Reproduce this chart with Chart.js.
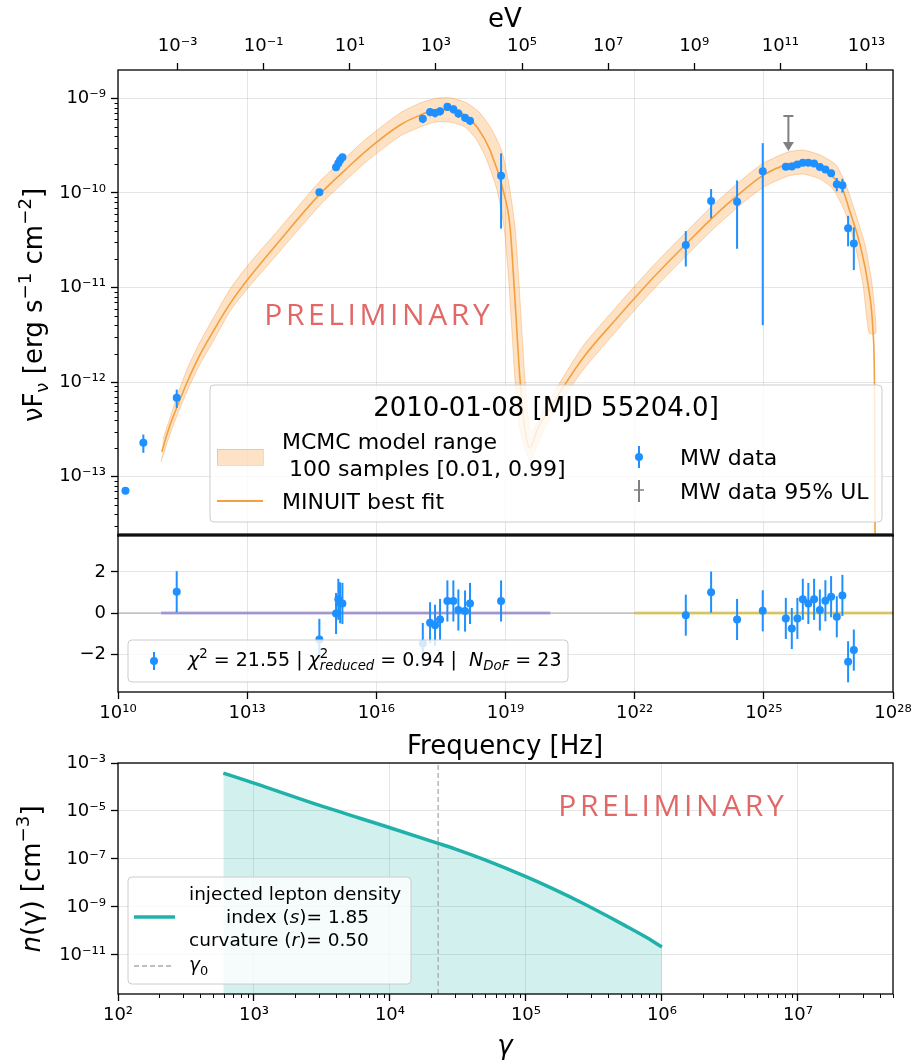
<!DOCTYPE html>
<html>
<head>
<meta charset="utf-8">
<script src="https://cdn.jsdelivr.net/npm/chart.js@4.4.1/dist/chart.umd.min.js"></script>
<style>
  body { margin: 0; background: #fff; }
  #wrap { position: relative; width: 913px; height: 1060px; }
  #wrap canvas { position: absolute; left: 0; top: 0; }
</style>
</head>
<body>
<div id="wrap">
  <canvas id="sed" width="913" height="1060"></canvas>
  <canvas id="res" width="913" height="1060"></canvas>
  <canvas id="ned" width="913" height="1060"></canvas>
</div>
<script>
// ---- MW data points: frequency [Hz], nuFnu [erg s-1 cm-2], 1-sigma error ----
const dataNu = [1.49e10, 3.88e10, 2.31e11,
  4.75e14, 1.16e15, 1.31e15, 1.44e15, 1.63e15,
  1.20e17, 1.77e17, 2.31e17, 3.02e17, 4.47e17, 6.15e17, 8.04e17, 1.15e18, 1.50e18, 7.89e18,
  1.54e23, 5.96e23, 2.39e24, 9.44e24,
  3.24e25, 4.46e25, 6.01e25, 8.04e25, 1.08e26, 1.47e26, 2.00e26, 2.69e26, 3.65e26, 4.95e26, 6.68e26,
  9.06e26, 1.23e27];
const dataFlux = [7.11e-14, 2.29e-13, 6.84e-13,
  1.02e-10, 1.87e-10, 2.06e-10, 2.23e-10, 2.38e-10,
  6.08e-10, 7.16e-10, 7.00e-10, 7.29e-10, 8.15e-10, 7.66e-10, 6.93e-10, 6.24e-10, 5.79e-10, 1.52e-10,
  2.81e-11, 8.20e-11, 8.07e-11, 1.70e-10,
  1.89e-10, 1.90e-10, 2.00e-10, 2.09e-10, 2.09e-10, 2.05e-10, 1.88e-10, 1.77e-10, 1.62e-10, 1.24e-10, 1.21e-10,
  4.23e-11, 2.93e-11];
const dataErr = [0.3e-14, 0.5e-13, 1.5e-13,
  0.05e-10, 0.09e-10, 0.10e-10, 0.11e-10, 0.12e-10,
  0.6e-10, 0.7e-10, 0.7e-10, 0.7e-10, 0.8e-10, 0.75e-10, 0.7e-10, 0.6e-10, 0.55e-10, 1.1e-10,
  1.14e-11, 2.8e-11, 5.5e-11, 1.66e-10,
  0.1e-10, 0.1e-10, 0.1e-10, 0.1e-10, 0.1e-10, 0.1e-10, 0.1e-10, 0.12e-10, 0.12e-10, 0.2e-10, 0.2e-10,
  1.5e-11, 1.4e-11];

// 95% upper limits
const ulNu = [3.72e25];
const ulFlux = [6.5e-10];

// (data - model) / error, null where the model is not defined
const residuals = [null, null, 1.04,
  -1.28, -0.02, 0.67, 0.50, 0.47,
  -1.48, -0.47, -0.59, -0.31, 0.59, 0.59, 0.15, 0.10, 0.47, 0.59,
  -0.10, 1.02, -0.31, 0.11,
  -0.26, -0.75, -0.26, 0.67, 0.47, 0.67, 0.15, 0.60, 0.80, -0.18, 0.86,
  -2.37, -1.80];

// MINUIT best fit, log10 nu / log10 nuFnu
const fitLogNu = [11.015, 11.185, 11.364, 11.626, 11.905, 12.253, 12.602, 13.020, 13.763, 14.692,
  15.273, 15.784, 16.551, 17.015, 17.387, 17.735, 18.060, 18.339, 18.641, 18.943,
  19.106, 19.199, 19.338, 19.454, 19.570, 19.733, 20.035, 20.801, 21.591, 21.940,
  22.358, 22.590, 23.194, 23.775, 24.379, 24.983, 25.563, 25.912, 26.307, 26.609,
  26.818, 27.003, 27.236, 27.422, 27.538, 27.573, 27.585];
const fitLogFlux = [-12.736, -12.485, -12.27, -11.98, -11.71, -11.43, -11.17, -10.91, -10.50, -10.01,
  -9.758, -9.547, -9.282, -9.177, -9.124, -9.124, -9.177, -9.303, -9.547, -9.969,
  -10.360, -10.974, -11.978, -12.507, -12.697, -12.507, -12.274, -11.745, -11.322, -11.143,
  -10.931, -10.820, -10.540, -10.276, -10.029, -9.814, -9.695, -9.673, -9.726, -9.832,
  -9.948, -10.202, -10.551, -10.974, -11.481, -12.189, -13.880];

// MCMC range, upper and lower envelope (log10)
const bandHiLogNu = [11.045, 11.208, 11.370, 11.626, 11.905, 12.253, 12.602, 13.020, 13.763, 14.692,
  15.273, 15.784, 16.551, 17.015, 17.410, 17.758, 18.107, 18.409, 18.688, 18.920,
  19.083, 19.222, 19.315, 19.454, 19.593, 19.918, 20.801, 21.591, 21.940, 22.358,
  22.590, 23.194, 23.775, 24.379, 24.983, 25.563, 25.912, 26.307, 26.678, 26.934,
  27.120, 27.352, 27.515, 27.607];
const bandHiLogFlux = [-12.601, -12.379, -12.147, -11.840, -11.576, -11.291, -11.016, -10.762, -10.371, -9.874,
  -9.631, -9.420, -9.155, -9.050, -8.997, -8.997, -9.050, -9.155, -9.335, -9.568,
  -9.917, -10.361, -10.974, -11.978, -12.528, -12.263, -11.618, -11.196, -11.016, -10.804,
  -10.693, -10.413, -10.149, -9.902, -9.687, -9.568, -9.547, -9.599, -9.705, -9.948,
  -10.202, -10.551, -10.974, -11.481];
const bandLoLogNu = [11.000, 11.161, 11.347, 11.626, 11.905, 12.253, 12.602, 13.020, 13.763, 14.692,
  15.273, 15.784, 16.551, 17.015, 17.364, 17.712, 18.060, 18.316, 18.548, 18.804,
  18.966, 19.083, 19.222, 19.338, 19.570, 19.872, 20.197, 20.801, 21.591, 21.940,
  22.358, 22.590, 23.194, 23.775, 24.379, 24.983, 25.563, 25.912, 26.307, 26.609,
  26.887, 27.120, 27.305, 27.445];
const bandLoLogFlux = [-12.844, -12.612, -12.379, -12.073, -11.809, -11.534, -11.248, -11.005, -10.614, -10.128,
  -9.874, -9.663, -9.399, -9.303, -9.251, -9.251, -9.303, -9.430, -9.631, -9.969,
  -10.361, -10.974, -11.978, -12.506, -12.823, -12.528, -12.263, -11.872, -11.450, -11.270,
  -11.058, -10.947, -10.667, -10.403, -10.155, -9.941, -9.821, -9.800, -9.853, -9.959,
  -10.202, -10.551, -10.974, -11.481];

// frequency ranges of the two model components (residual panel)
const syncRange = [1e11, 1.1e20];
const icRange = [1e22, 1e28];

// injected lepton distribution n(gamma) [cm-3]
const gammaVals = [595, 1e3, 3e3, 1e4, 2.26e4, 3e4, 5e4, 1e5, 1.6e5, 2.64e5, 4e5, 5.2e5, 7.5e5, 1e6];
const nGamma = [3.80e-4, 1.45e-4, 1.74e-5, 2.0e-6, 4.47e-7, 2.63e-7, 9.12e-8, 1.82e-8, 5.50e-9, 1.39e-9,
  4.07e-10, 1.83e-10, 5.83e-11, 2.14e-11];
const gamma0 = 2.26e4;

// tick positions
const hzTicks = [1e10, 1e13, 1e16, 1e19, 1e22, 1e25, 1e28];
const evTicks = [1e-3, 1e-1, 1e1, 1e3, 1e5, 1e7, 1e9, 1e11, 1e13];
const fluxTicks = [1e-13, 1e-12, 1e-11, 1e-10, 1e-9];
const residTicks = [-2, 0, 2];
const gammaTicks = [1e2, 1e3, 1e4, 1e5, 1e6, 1e7];
const densTicks = [1e-11, 1e-9, 1e-7, 1e-5, 1e-3];

const H_EV = 4.135667e-15;   // Planck constant [eV s]
const FONT = '"DejaVu Sans", sans-serif';
const GRID = 'rgba(0,0,0,0.1)';
const BLUE = '#1e90ff';
const ORANGE = '#f4a03e';
const BAND_FILL = 'rgba(250,150,50,0.28)';
const BAND_EDGE = 'rgba(245,140,40,0.35)';
const TEAL = '#20b2aa';
const RED = 'rgb(226,104,104)';

const SUP = { '-': '\u207b', '0': '\u2070', '1': '\u00b9', '2': '\u00b2', '3': '\u00b3', '4': '\u2074',
  '5': '\u2075', '6': '\u2076', '7': '\u2077', '8': '\u2078', '9': '\u2079' };

function powLabel(v) {
  var e = Math.round(Math.log10(v));
  return '10' + String(e).split('').map(function (c) { return SUP[c]; }).join('');
}
function minusLabel(v) { return v < 0 ? '\u2212' + Math.abs(v) : String(v); }

function setTicks(list) {
  return function (scale) { scale.ticks = list.map(function (v) { return { value: v }; }); };
}
// pin the axis box size so the plot areas line up between charts
function fixBox(size) {
  return function (scale) {
    if (scale.isHorizontal()) scale.height = size; else scale.width = size;
    scale.paddingLeft = scale.paddingRight = scale.paddingTop = scale.paddingBottom = 0;
  };
}
function tickOpts(pad, cb) {
  return { font: { family: FONT, size: 18 }, color: '#000', padding: pad, autoSkip: false,
    maxRotation: 0, minRotation: 0, callback: cb };
}
const majorGrid = { color: GRID, tickColor: '#000', tickLength: 7, tickWidth: 1.3 };

// ---- drawing helpers ----
function layoutRich(ctx, parts, size) {
  var w = 0, items = [];
  parts.forEach(function (p) {
    var s = (p.sup || p.sub) ? size * 0.7 : size;
    var f = (p.i ? 'italic ' : '') + s + 'px ' + FONT;
    ctx.font = f;
    var pw = ctx.measureText(p.t).width;
    var dy = p.sup ? -size * 0.42 : (p.sub ? size * 0.22 : 0);
    items.push({ t: p.t, f: f, x: w, dy: dy });
    if (!p.stay) w += pw;
  });
  return { w: w, items: items };
}
function drawRich(ctx, parts, x, y, size, align, color) {
  ctx.save();
  var r = layoutRich(ctx, parts, size);
  var x0 = align === 'center' ? x - r.w / 2 : x;
  ctx.fillStyle = color || '#000';
  ctx.textBaseline = 'alphabetic';
  r.items.forEach(function (it) {
    ctx.font = it.f;
    ctx.fillText(it.t, x0 + it.x, y + size * 0.36 + it.dy);
  });
  ctx.restore();
}
function drawRotated(ctx, parts, x, y, size) {
  ctx.save();
  ctx.translate(x, y);
  ctx.rotate(-Math.PI / 2);
  drawRich(ctx, parts, 0, 0, size, 'center');
  ctx.restore();
}
function legendBox(ctx, x, y, w, h) {
  ctx.save();
  ctx.beginPath();
  ctx.roundRect(x, y, w, h, 4);
  ctx.fillStyle = 'rgba(255,255,255,0.8)';
  ctx.fill();
  ctx.strokeStyle = '#cccccc';
  ctx.lineWidth = 1;
  ctx.stroke();
  ctx.restore();
}
function frame(chart, lw) {
  var a = chart.chartArea, ctx = chart.ctx;
  ctx.save();
  ctx.strokeStyle = '#000';
  ctx.lineWidth = lw || 1.3;
  ctx.strokeRect(a.left, a.top, a.right - a.left, a.bottom - a.top);
  ctx.restore();
}
function minorTicks(chart, id, e0, e1, len) {
  var s = chart.scales[id], ctx = chart.ctx;
  ctx.save();
  ctx.strokeStyle = '#000';
  ctx.lineWidth = 1;
  for (var e = e0; e <= e1; e++) {
    for (var m = 2; m <= 9; m++) {
      var v = m * Math.pow(10, e);
      if (v < s.min || v > s.max) continue;
      var p = Math.round(s.getPixelForValue(v)) + 0.5;
      ctx.beginPath();
      if (s.isHorizontal()) { ctx.moveTo(p, s.top); ctx.lineTo(p, s.top + len); }
      else { ctx.moveTo(s.right, p); ctx.lineTo(s.right - len, p); }
      ctx.stroke();
    }
  }
  ctx.restore();
}
function preliminary(ctx, x, y) {
  ctx.save();
  ctx.font = '30px "Open Sans", sans-serif';
  ctx.letterSpacing = '3.6px';
  ctx.fillStyle = RED;
  ctx.textAlign = 'center';
  ctx.textBaseline = 'middle';
  ctx.fillText('PRELIMINARY', x + 1.8, y);
  ctx.restore();
}
function errMarker(ctx, x, y, half, color, dot) {
  ctx.save();
  ctx.strokeStyle = color;
  ctx.fillStyle = color;
  ctx.lineWidth = 2;
  ctx.beginPath();
  ctx.moveTo(x, y - half);
  ctx.lineTo(x, y + half);
  ctx.stroke();
  if (dot) { ctx.beginPath(); ctx.arc(x, y, 4, 0, Math.PI * 2); ctx.fill(); }
  ctx.restore();
}

// vertical error bars for datasets that carry an errY array
const errorBars = {
  id: 'errorBars',
  beforeDatasetDraw: function (chart, args) {
    var ds = chart.data.datasets[args.index];
    if (!ds.errY) return;
    var ctx = chart.ctx, xs = chart.scales.x, ys = chart.scales.y, a = chart.chartArea;
    ctx.save();
    ctx.beginPath();
    ctx.rect(a.left, a.top, a.right - a.left, a.bottom - a.top);
    ctx.clip();
    ctx.strokeStyle = ds.borderColor;
    ctx.lineWidth = 2;
    ds.data.forEach(function (p, i) {
      var e = ds.errY[i];
      if (!e) return;
      var px = xs.getPixelForValue(p.x);
      var lo = p.y - e;
      var y1 = ys.getPixelForValue(p.y + e);
      var y2 = (ys.type === 'logarithmic' && lo <= 0) ? a.bottom : ys.getPixelForValue(lo);
      ctx.beginPath();
      ctx.moveTo(px, y1);
      ctx.lineTo(px, y2);
      ctx.stroke();
    });
    ctx.restore();
  }
};
Chart.register(errorBars);

// ---- top panel: SED ----
const sedPts = dataNu.map(function (nu, i) { return { x: nu, y: dataFlux[i] }; });
const fitLine = fitLogNu.map(function (l, i) { return { x: Math.pow(10, l), y: Math.pow(10, fitLogFlux[i]) }; });
const bandHi = bandHiLogNu.map(function (l, i) { return { x: Math.pow(10, l), y: Math.pow(10, bandHiLogFlux[i]) }; });
const bandLo = bandLoLogNu.map(function (l, i) { return { x: Math.pow(10, l), y: Math.pow(10, bandLoLogFlux[i]) }; });
const bandShape = bandHi.concat(bandLo.slice().reverse());

const sedDecor = {
  id: 'sedDecor',
  afterDatasetsDraw: function (chart) {
    var ctx = chart.ctx, a = chart.chartArea, xs = chart.scales.x, ys = chart.scales.y;
    // upper limits: cap + arrow pointing down
    ctx.save();
    ctx.strokeStyle = '#808080';
    ctx.fillStyle = '#808080';
    ctx.lineWidth = 2;
    ulNu.forEach(function (nu, i) {
      var px = xs.getPixelForValue(nu), py = ys.getPixelForValue(ulFlux[i]);
      ctx.beginPath();
      ctx.moveTo(px - 5, py); ctx.lineTo(px + 5, py);
      ctx.moveTo(px, py); ctx.lineTo(px, py + 27);
      ctx.stroke();
      ctx.beginPath();
      ctx.moveTo(px - 5.5, py + 26); ctx.lineTo(px + 5.5, py + 26); ctx.lineTo(px, py + 35);
      ctx.closePath();
      ctx.fill();
    });
    ctx.restore();
    frame(chart);
    ctx.save();
    ctx.strokeStyle = '#333';
    ctx.lineWidth = 3.5;
    ctx.beginPath();
    ctx.moveTo(a.left - 1, a.bottom);
    ctx.lineTo(a.right + 1, a.bottom);
    ctx.stroke();
    ctx.restore();
    minorTicks(chart, 'y', -14, -9, 3.5);
  },
  afterDraw: function (chart) {
    var ctx = chart.ctx;
    preliminary(ctx, 377, 316);
    drawRich(ctx, [{ t: 'eV' }], 505, 18, 26, 'center');
    drawRotated(ctx, [{ t: '\u03bdF' }, { t: '\u03bd', sub: 1 }, { t: ' [erg s' }, { t: '\u22121', sup: 1 },
      { t: ' cm' }, { t: '\u22122', sup: 1 }, { t: ']' }], 33, 305, 26);

    legendBox(ctx, 210, 385, 672, 137);
    drawRich(ctx, [{ t: '2010-01-08 [MJD 55204.0]' }], 546, 407, 26, 'center');
    ctx.save();
    ctx.fillStyle = BAND_FILL;
    ctx.fillRect(217, 449, 46, 16);
    ctx.strokeStyle = BAND_EDGE;
    ctx.strokeRect(217.5, 449.5, 46, 16);
    ctx.strokeStyle = ORANGE;
    ctx.lineWidth = 2;
    ctx.beginPath(); ctx.moveTo(217, 501); ctx.lineTo(263, 501); ctx.stroke();
    ctx.restore();
    drawRich(ctx, [{ t: 'MCMC model range' }], 282, 441, 22);
    drawRich(ctx, [{ t: ' 100 samples [0.01, 0.99]' }], 282, 468, 22);
    drawRich(ctx, [{ t: 'MINUIT best fit' }], 282, 501, 22);
    errMarker(ctx, 639, 457, 11, BLUE, true);
    drawRich(ctx, [{ t: 'MW data' }], 680, 457, 22);
    errMarker(ctx, 639, 491, 11, '#808080', false);
    ctx.save();
    ctx.strokeStyle = '#808080'; ctx.lineWidth = 1.5;
    ctx.beginPath(); ctx.moveTo(634, 490); ctx.lineTo(644, 490); ctx.stroke();
    ctx.restore();
    drawRich(ctx, [{ t: 'MW data 95% UL' }], 680, 491, 22);
  }
};

// higher "order" is drawn first (underneath)
new Chart(document.getElementById('sed'), {
  type: 'scatter',
  data: {
    datasets: [
      { type: 'line', order: 3, data: bandShape, fill: 'shape', backgroundColor: BAND_FILL, borderColor: BAND_EDGE,
        borderWidth: 1, pointRadius: 0, tension: 0.2 },
      { type: 'line', order: 2, data: fitLine, borderColor: ORANGE, borderWidth: 1.6, pointRadius: 0, fill: false,
        cubicInterpolationMode: 'monotone' },
      { order: 1, data: sedPts, backgroundColor: BLUE, borderColor: BLUE, pointRadius: 4, pointBorderWidth: 0,
        errY: dataErr }
    ]
  },
  options: {
    responsive: false, animation: false, devicePixelRatio: 1, events: [],
    layout: { padding: { left: 0, right: 20, top: 0, bottom: 0 } },
    plugins: { legend: { display: false }, tooltip: { enabled: false } },
    scales: {
      x: { type: 'logarithmic', position: 'bottom', min: 1e10, max: 1e28,
        afterBuildTicks: setTicks(hzTicks), afterFit: fixBox(525),
        ticks: { display: false }, grid: { color: GRID, drawTicks: false }, border: { display: false } },
      ev: { axis: 'x', type: 'logarithmic', position: 'top', min: 1e10 * H_EV, max: 1e28 * H_EV,
        afterBuildTicks: setTicks(evTicks), afterFit: fixBox(70),
        ticks: tickOpts(6, powLabel),
        grid: { drawOnChartArea: false, tickColor: '#000', tickLength: 7, tickWidth: 1.3 }, border: { display: false } },
      y: { type: 'logarithmic', position: 'left', min: Math.pow(10, -13.616), max: Math.pow(10, -8.70),
        afterBuildTicks: setTicks(fluxTicks), afterFit: fixBox(118),
        ticks: tickOpts(5, powLabel), grid: majorGrid, border: { display: false } }
    }
  },
  plugins: [sedDecor]
});

// ---- middle panel: residuals ----
const residPts = [], residErr = [];
residuals.forEach(function (r, i) {
  if (r !== null) { residPts.push({ x: dataNu[i], y: r }); residErr.push(1); }
});

const resDecor = {
  id: 'resDecor',
  afterDatasetsDraw: function (chart) { frame(chart); },
  afterDraw: function (chart) {
    var ctx = chart.ctx;
    drawRich(ctx, [{ t: 'Frequency [Hz]' }], 505, 745, 26, 'center');
    legendBox(ctx, 128, 640, 440, 42);
    errMarker(ctx, 154, 661, 9, BLUE, true);
    drawRich(ctx, [{ t: '\u03c7', i: 1 }, { t: '2', sup: 1 }, { t: ' = 21.55 | ' },
      { t: '\u03c7', i: 1 }, { t: '2', sup: 1, stay: 1 }, { t: 'reduced', sub: 1, i: 1 },
      { t: ' = 0.94 |  ' }, { t: 'N', i: 1 }, { t: 'DoF', sub: 1, i: 1 }, { t: ' = 23' }], 188, 659, 19);
  }
};

new Chart(document.getElementById('res'), {
  type: 'scatter',
  data: {
    datasets: [
      { type: 'line', order: 4, data: [{ x: 1e10, y: 0 }, { x: 1e28, y: 0 }], borderColor: 'rgba(128,128,128,0.45)',
        borderWidth: 1.5, pointRadius: 0 },
      { type: 'line', order: 3, data: syncRange.map(function (v) { return { x: v, y: 0 }; }),
        borderColor: 'rgba(130,110,205,0.55)', borderWidth: 3, pointRadius: 0 },
      { type: 'line', order: 2, data: icRange.map(function (v) { return { x: v, y: 0 }; }),
        borderColor: 'rgba(220,190,50,0.65)', borderWidth: 3, pointRadius: 0 },
      { order: 1, data: residPts, backgroundColor: BLUE, borderColor: BLUE, pointRadius: 4, pointBorderWidth: 0,
        errY: residErr }
    ]
  },
  options: {
    responsive: false, animation: false, devicePixelRatio: 1, events: [],
    layout: { padding: { left: 0, right: 20, top: 535, bottom: 0 } },
    plugins: { legend: { display: false }, tooltip: { enabled: false } },
    scales: {
      x: { type: 'logarithmic', position: 'bottom', min: 1e10, max: 1e28,
        afterBuildTicks: setTicks(hzTicks), afterFit: fixBox(368),
        ticks: tickOpts(4, powLabel), grid: majorGrid, border: { display: false } },
      y: { type: 'linear', position: 'left', min: -3.84, max: 3.8,
        afterBuildTicks: setTicks(residTicks), afterFit: fixBox(118),
        ticks: tickOpts(5, minusLabel), grid: majorGrid, border: { display: false } }
    }
  },
  plugins: [resDecor]
});

// ---- bottom panel: lepton distribution ----
const nedPts = gammaVals.map(function (g, i) { return { x: g, y: nGamma[i] }; });
const nMin = Math.pow(10, -12.63), nMax = 1e-3;

const nedDecor = {
  id: 'nedDecor',
  afterDatasetsDraw: function (chart) {
    frame(chart);
    minorTicks(chart, 'x', 2, 7, 4);
  },
  afterDraw: function (chart) {
    var ctx = chart.ctx;
    preliminary(ctx, 671, 807);
    drawRich(ctx, [{ t: '\u03b3', i: 1 }], 505, 1045, 26, 'center');
    drawRotated(ctx, [{ t: 'n', i: 1 }, { t: '(\u03b3) [cm' }, { t: '\u22123', sup: 1 }, { t: ']' }], 31, 879, 26);

    legendBox(ctx, 128, 877, 283, 107);
    ctx.save();
    ctx.strokeStyle = TEAL; ctx.lineWidth = 3.5;
    ctx.beginPath(); ctx.moveTo(134, 917); ctx.lineTo(175, 917); ctx.stroke();
    ctx.strokeStyle = '#aaaaaa'; ctx.lineWidth = 1.5; ctx.setLineDash([5, 3]);
    ctx.beginPath(); ctx.moveTo(134, 966); ctx.lineTo(174, 966); ctx.stroke();
    ctx.restore();
    drawRich(ctx, [{ t: 'injected lepton density' }], 189, 893, 18.5);
    drawRich(ctx, [{ t: 'index (' }, { t: 's', i: 1 }, { t: ')= 1.85' }], 226, 916, 18.5);
    drawRich(ctx, [{ t: 'curvature (' }, { t: 'r', i: 1 }, { t: ')= 0.50' }], 189, 939, 18.5);
    drawRich(ctx, [{ t: '\u03b3', i: 1 }, { t: '0', sub: 1 }], 189, 964, 18.5);
  }
};

new Chart(document.getElementById('ned'), {
  type: 'scatter',
  data: {
    datasets: [
      { type: 'line', order: 2, data: nedPts, borderColor: TEAL, borderWidth: 3.5, pointRadius: 0,
        fill: 'start', backgroundColor: 'rgba(32,178,170,0.2)', cubicInterpolationMode: 'monotone' },
      { type: 'line', order: 1, data: [{ x: gamma0, y: nMin }, { x: gamma0, y: nMax }], borderColor: '#aaaaaa',
        borderWidth: 1.3, borderDash: [5, 3], pointRadius: 0, fill: false }
    ]
  },
  options: {
    responsive: false, animation: false, devicePixelRatio: 1, events: [],
    layout: { padding: { left: 0, right: 20, top: 763, bottom: 0 } },
    plugins: { legend: { display: false }, tooltip: { enabled: false } },
    scales: {
      x: { type: 'logarithmic', position: 'bottom', min: 1e2, max: 5.0e7,
        afterBuildTicks: setTicks(gammaTicks), afterFit: fixBox(66),
        ticks: tickOpts(4, powLabel), grid: majorGrid, border: { display: false } },
      y: { type: 'logarithmic', position: 'left', min: nMin, max: nMax,
        afterBuildTicks: setTicks(densTicks), afterFit: fixBox(118),
        ticks: tickOpts(5, powLabel), grid: majorGrid, border: { display: false } }
    }
  },
  plugins: [nedDecor]
});
</script>
</body>
</html>
